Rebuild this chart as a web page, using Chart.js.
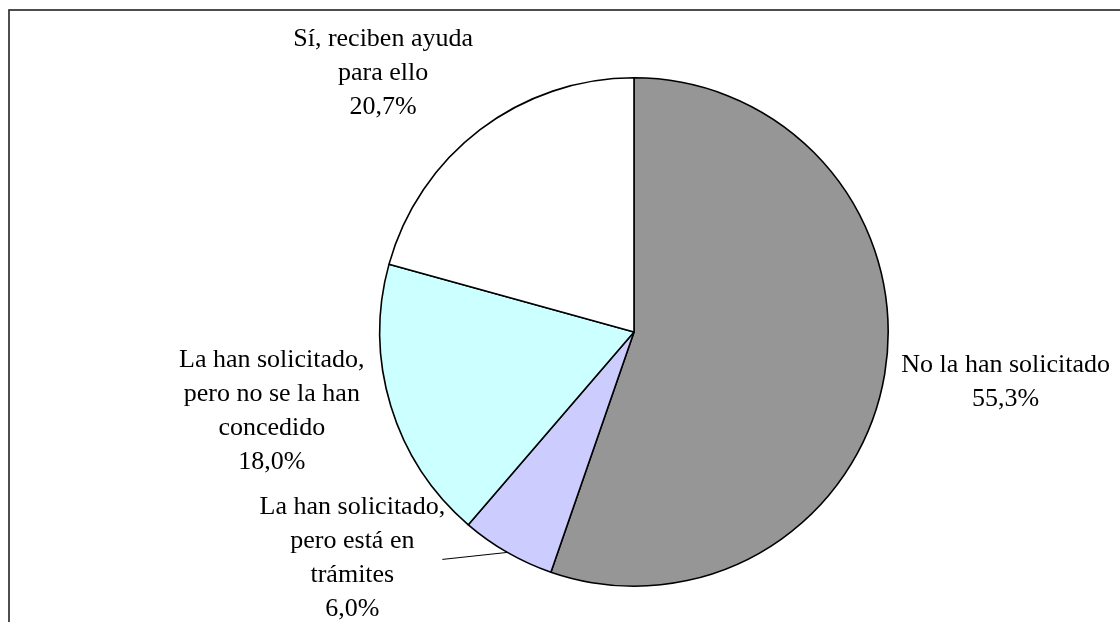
<!DOCTYPE html>
<html lang="es">
<head>
<meta charset="utf-8">
<title>Ayuda solicitada</title>
<script src="https://cdn.jsdelivr.net/npm/chart.js@4/dist/chart.umd.min.js"></script>
<style>
  html, body { margin: 0; padding: 0; background: #fff; }
  canvas { display: block; }
</style>
</head>
<body>
<canvas id="pieChart" width="1120" height="622"></canvas>
<script>
// categorías y valores (%)
const categorias = [
  "No la han solicitado",
  "La han solicitado, pero está en trámites",
  "La han solicitado, pero no se la han concedido",
  "Sí, reciben ayuda para ello"
];
const valores = [55.3, 6.0, 18.0, 20.7];
const colores = ["#969696", "#CCCCFF", "#CCFFFF", "#FFFFFF"];

// etiquetas en varias líneas, tal como aparecen
const lineasEtiqueta = [
  ["No la han solicitado"],
  ["La han solicitado,", "pero está en", "trámites"],
  ["La han solicitado,", "pero no se la han", "concedido"],
  ["Sí, reciben ayuda", "para ello"]
];

// desplazamiento del centro de cada etiqueta respecto al borde del sector
const desplazamientos = [[121, 8], [-155, 6], [-119, 5], [-97, -57]];
const conLinea = [false, true, false, false];

const fuente = '26px "Liberation Serif", "Times New Roman", serif';
const altoLinea = 34;

const etiquetasPlugin = {
  id: "etiquetas",
  beforeDraw(chart) {
    const c = chart.ctx;
    c.save();
    c.strokeStyle = "#222";
    c.lineWidth = 1.6;
    c.strokeRect(9, 10, 1300, 800);
    c.restore();
  },
  afterDraw(chart) {
    const c = chart.ctx;
    const meta = chart.getDatasetMeta(0);
    c.save();
    c.font = fuente;
    c.fillStyle = "#000";
    c.textAlign = "center";
    c.textBaseline = "middle";
    meta.data.forEach((arc, i) => {
      const mid = (arc.startAngle + arc.endAngle) / 2;
      const ex = arc.x + Math.cos(mid) * arc.outerRadius;
      const ey = arc.y + Math.sin(mid) * arc.outerRadius;
      const lx = ex + desplazamientos[i][0];
      const ly = ey + desplazamientos[i][1];
      const lineas = lineasEtiqueta[i].concat([valores[i].toFixed(1).replace(".", ",") + "%"]);
      const y0 = ly - (lineas.length - 1) * altoLinea / 2;
      lineas.forEach((t, k) => c.fillText(t, lx, y0 + k * altoLinea));
      if (conLinea[i]) {
        c.beginPath();
        c.strokeStyle = "#000";
        c.lineWidth = 1;
        c.moveTo(ex, ey);
        c.lineTo(ex - 65, ey + 7);
        c.stroke();
      }
    });
    c.restore();
  }
};

new Chart(document.getElementById("pieChart").getContext("2d"), {
  type: "pie",
  data: {
    labels: categorias,
    datasets: [{
      data: valores,
      backgroundColor: colores,
      borderColor: "#000",
      borderWidth: 1.6
    }]
  },
  options: {
    responsive: false,
    animation: false,
    layout: { padding: { left: 379, right: 231, top: 77, bottom: 35 } },
    plugins: {
      legend: { display: false },
      tooltip: { enabled: false }
    }
  },
  plugins: [etiquetasPlugin]
});
</script>
</body>
</html>
